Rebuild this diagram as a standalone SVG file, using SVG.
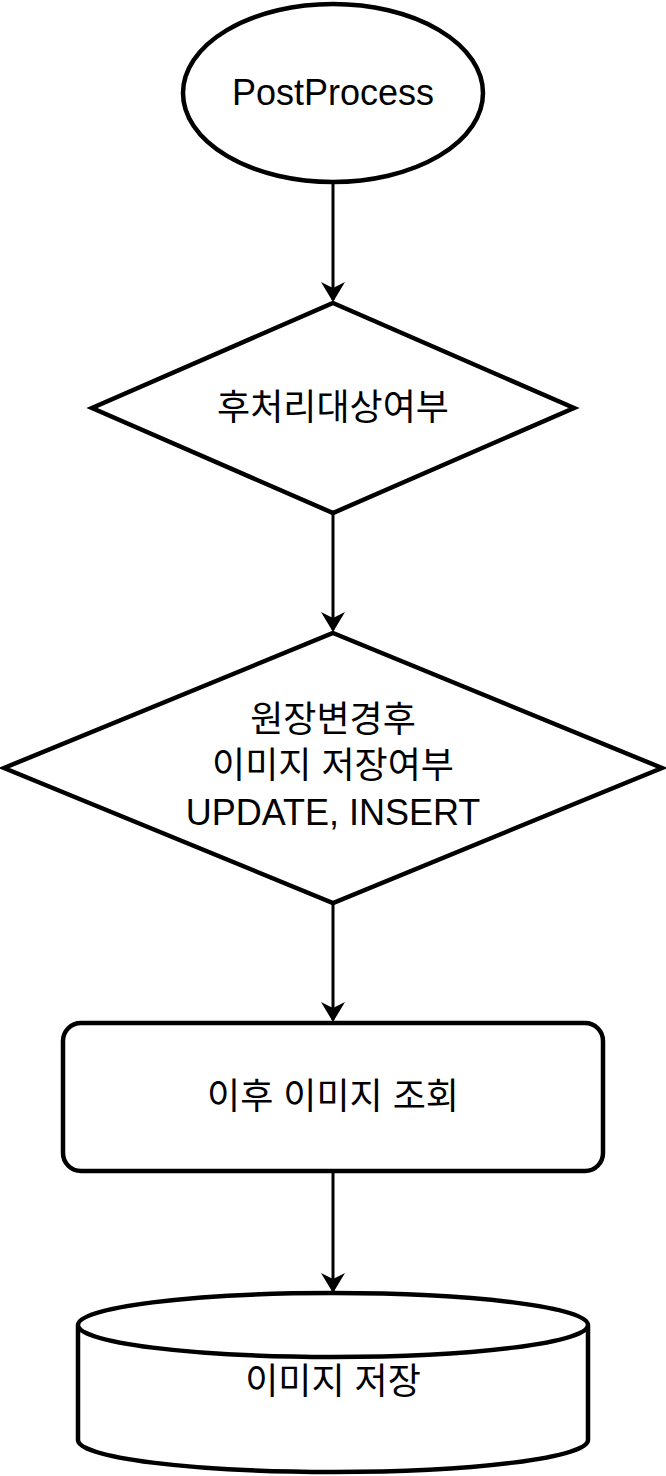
<svg xmlns="http://www.w3.org/2000/svg" width="666" height="1476" viewBox="0 0 666 1476">
<defs>
<style>
.s{fill:#fff;stroke:#000;stroke-width:4.5}
.t{font-family:"Liberation Sans","Noto Sans CJK KR",sans-serif;font-size:36px;text-anchor:middle;fill:#000}
.c{stroke:#000;stroke-width:3;fill:none}
</style>
<marker id="b" viewBox="0 0 20 24" markerWidth="20" markerHeight="24" refX="18" refY="12" orient="auto" markerUnits="userSpaceOnUse"><path d="M0,0 L20,12 L0,24 L6,12 Z"/></marker>
</defs>
<g id="connectors">
<path class="c" d="M333,183 V300" marker-end="url(#b)"/>
<path class="c" d="M333,513 V630" marker-end="url(#b)"/>
<path class="c" d="M333,903 V1020" marker-end="url(#b)"/>
<path class="c" d="M333,1173 V1291" marker-end="url(#b)"/>
</g>
<g id="n1"><ellipse class="s" cx="333" cy="93" rx="150" ry="89"/><text class="t" x="333" y="105">PostProcess</text></g>
<g id="n2"><polygon class="s" points="333,303 574,408 333,513 92,408"/><text class="t" x="333" y="420">후처리대상여부</text></g>
<g id="n3"><polygon class="s" points="333,633 662,768 333,903 4,768"/><text class="t" x="333" y="732">원장변경후</text><text class="t" x="333" y="778">이미지 저장여부</text><text class="t" x="333" y="825">UPDATE, INSERT</text></g>
<g id="n4"><rect class="s" x="63" y="1023" width="540" height="148" rx="18"/><text class="t" x="333" y="1109">이후 이미지 조회</text></g>
<g id="n5"><path class="s" d="M78,1325 V1440 A255,32 0 0 0 588,1440 V1325 A255,32 0 0 0 78,1325 A255,32 0 0 0 588,1325"/><text class="t" x="333" y="1394">이미지 저장</text></g>
</svg>
